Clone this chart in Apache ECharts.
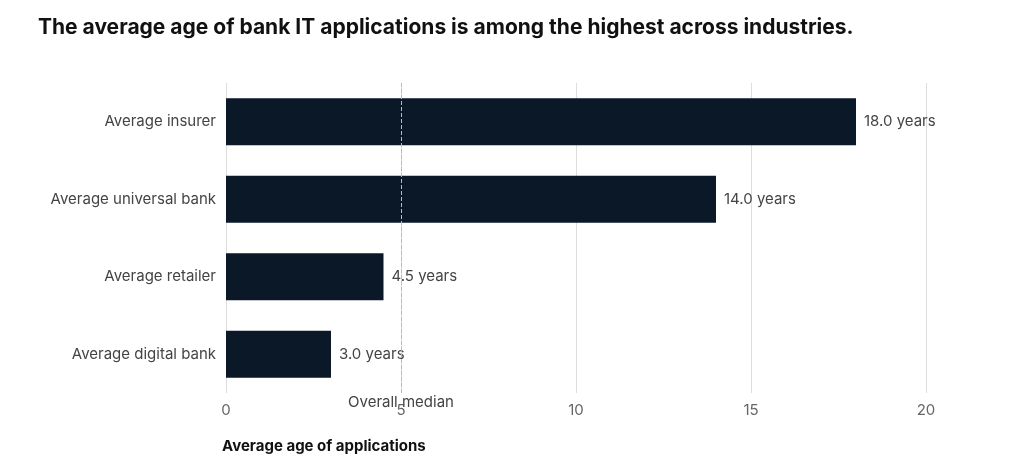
<!DOCTYPE html>
<html>
<head>
<meta charset="utf-8">
<script src="https://cdn.jsdelivr.net/npm/echarts@6/dist/echarts.min.js"></script>
<style>
  html, body { margin: 0; padding: 0; background: #fff; }
  #chart { width: 1024px; height: 470px; }
</style>
</head>
<body>
<div id="chart"></div>
<script>
// Data
const categories = ["Average insurer", "Average universal bank", "Average retailer", "Average digital bank"];
const ages = [18.0, 14.0, 4.5, 3.0];
const medianAge = 5;

const chart = echarts.init(document.getElementById("chart"));

chart.setOption({
  animation: false,
  title: {
    text: "The average age of bank IT applications is among the highest across industries.",
    left: 33,
    top: 12,
    textStyle: { fontFamily: "Inter", fontSize: 21, fontWeight: "bold", color: "#111" },
  },
  grid: { left: 226, right: 98, top: 83, bottom: 77 },
  xAxis: {
    type: "value",
    min: 0,
    max: 20,
    interval: 5,
    name: "Average age of applications",
    nameLocation: "start",
    nameGap: 0,
    nameTextStyle: {
      fontFamily: "Inter", fontSize: 15, fontWeight: "bold", color: "#111",
      align: "left", verticalAlign: "top", padding: [46, 0, 0, -4],
    },
    axisLine: { show: false },
    axisTick: { show: false },
    axisLabel: { color: "#666", fontFamily: "Inter", fontSize: 15, margin: 10 },
    splitLine: { show: true, lineStyle: { color: "#ddd", width: 1 } },
  },
  yAxis: {
    type: "category",
    data: categories,
    inverse: true,
    axisLine: { show: false },
    axisTick: { show: false },
    axisLabel: { color: "#444", fontFamily: "Inter", fontSize: 15, margin: 10 },
  },
  series: [
    {
      type: "bar",
      data: ages,
      barWidth: 47,
      itemStyle: { color: "#0b1828" },
      label: {
        show: true,
        position: "right",
        distance: 8,
        formatter: (p) => p.value.toFixed(1) + " years",
        color: "#444",
        fontFamily: "Inter",
        fontSize: 15,
      },
      markLine: {
        silent: true,
        symbol: "none",
        lineStyle: { color: "#bbb", type: "dashed", width: 1 },
        label: {
          show: true,
          position: "end",
          formatter: "Overall median",
          color: "#444",
          fontFamily: "Inter",
          fontSize: 15,
          distance: 2,
        },
        data: [{ xAxis: medianAge }],
      },
    },
  ],
});
</script>
</body>
</html>
